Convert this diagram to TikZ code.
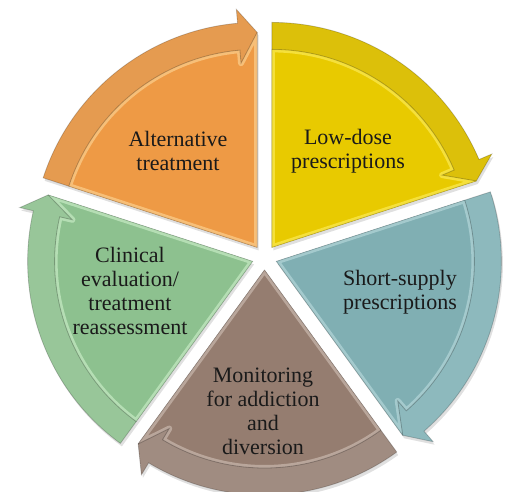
\documentclass[tikz,border=0pt]{standalone}
\usepackage{fontspec}
\setmainfont{Liberation Serif}
\newfontfamily\lblserif{Liberation Serif}
\usetikzlibrary{calc}
\definecolor{orBand}{HTML}{E59B50}
\definecolor{orBody}{HTML}{EE9A45}
\definecolor{orLite}{HTML}{FBD08E}
\definecolor{yeBand}{HTML}{DCC00A}
\definecolor{yeBody}{HTML}{E8CA00}
\definecolor{yeLite}{HTML}{FBEA55}
\definecolor{teBand}{HTML}{8DB9BD}
\definecolor{teBody}{HTML}{80AFB3}
\definecolor{teLite}{HTML}{B4D6D9}
\definecolor{brBand}{HTML}{A08C81}
\definecolor{brBody}{HTML}{957D70}
\definecolor{brLite}{HTML}{C9B8AE}
\definecolor{grBand}{HTML}{98C699}
\definecolor{grBody}{HTML}{8DC18F}
\definecolor{grLite}{HTML}{C6EBC4}
\definecolor{txt}{HTML}{1A1A1A}
\newcommand{\pieseg}[5]{%
  \pgfmathsetmacro{\segmid}{(#1+#2)/2}%
  \coordinate (A) at ($(C)+(\segmid:12.5)$);%
  \begin{scope}
    \fill[#3] (A) -- ($(A)+(#1:225)$) arc[start angle=#1, end angle={#2+5}, radius=225]
      -- ($(A)+({#2+5}:239)$) -- ($(A)+(#2:215)$) -- cycle;
    \fill[#4] (A) -- ($(A)+(#1:198)$) arc[start angle=#1, end angle={#2+5}, radius=198]
      -- ($(A)+({#2+5}:185)$) -- ($(A)+(#2:215)$) -- cycle;
    \begin{scope}
      \clip (A) -- ($(A)+(#1:198)$) arc[start angle=#1, end angle={#2+5}, radius=198]
        -- ($(A)+({#2+5}:185)$) -- ($(A)+(#2:215)$) -- cycle;
      \draw[#5, line width=6pt, opacity=0.7, line join=round] (A) -- ($(A)+(#1:198)$)
        arc[start angle=#1, end angle={#2+5}, radius=198]
        -- ($(A)+({#2+5}:185)$) -- ($(A)+(#2:215)$) -- cycle;
    \end{scope}
    \draw[black, opacity=0.25, line width=0.8pt] ($(A)+(#1:198)$)
      arc[start angle=#1, end angle={#2+5}, radius=198]
      -- ($(A)+({#2+5}:185)$) -- ($(A)+(#2:215)$);
    \draw[black, opacity=0.2, line width=0.8pt] (A) -- ($(A)+(#1:225)$) arc[start angle=#1, end angle={#2+5}, radius=225]
      -- ($(A)+({#2+5}:239)$) -- ($(A)+(#2:215)$) -- cycle;
  \end{scope}}
\newcommand{\segshadow}[2]{%
  \pgfmathsetmacro{\segmid}{(#1+#2)/2}%
  \coordinate (A) at ($(C)+(\segmid:12.5)+(1.5,-3)$);%
  \fill[black, opacity=0.12] (A) -- ($(A)+(#1:225)$) arc[start angle=#1, end angle={#2+5}, radius=225]
      -- ($(A)+({#2+5}:239)$) -- ($(A)+(#2:215)$) -- cycle;}
\tikzset{
  lbl/.style={text=txt, align=center, font=\lblserif\fontsize{22}{24}\selectfont, inner sep=0pt}
}
\begin{document}
\begin{tikzpicture}[x=1pt, y=1pt]
  \useasboundingbox (0,0) rectangle (506,491);
  \fill[white] (0,0) rectangle (506,491);
  \coordinate (C) at (264.5,233.5);
  \segshadow{162}{90}
  \segshadow{90}{18}
  \segshadow{18}{-54}
  \segshadow{-54}{-126}
  \segshadow{234}{162}
  \pieseg{162}{90}{orBand}{orBody}{orLite}
  \pieseg{90}{18}{yeBand}{yeBody}{yeLite}
  \pieseg{18}{-54}{teBand}{teBody}{teLite}
  \pieseg{-54}{-126}{brBand}{brBody}{brLite}
  \pieseg{234}{162}{grBand}{grBody}{grLite}
  \node[lbl] (alt) at (178,340) {Alternative\\treatment};
  \node[lbl] (low) at (348,340) {Low-dose\\prescriptions};
  \node[lbl] (sho) at (400,199) {Short-supply\\prescriptions};
  \node[lbl] (mon) at (263,80) {Monitoring\\for addiction\\and\\diversion};
  \node[lbl] (cli) at (130,200) {Clinical\\evaluation/\\treatment\\reassessment};
\end{tikzpicture}
\end{document}
